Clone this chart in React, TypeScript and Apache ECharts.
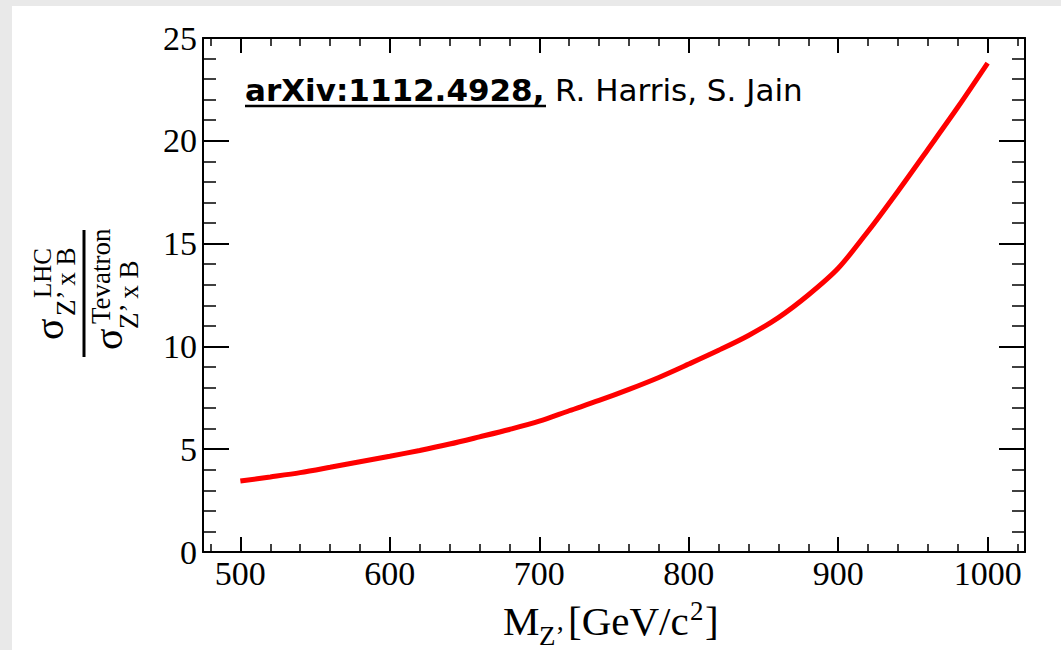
import React, { useEffect, useRef } from "react";
import * as echarts from "echarts";

// Z' mass (GeV/c^2) and ratio sigma_LHC / sigma_Tevatron
const MASS = [500, 520, 540, 560, 580, 600, 620, 640, 660, 680, 700, 720, 740, 760, 780, 800, 820, 840, 860, 880, 900, 920, 940, 960, 980, 1000];
const RATIO = [3.45, 3.65, 3.86, 4.12, 4.39, 4.66, 4.94, 5.25, 5.6, 5.96, 6.36, 6.87, 7.37, 7.91, 8.49, 9.14, 9.81, 10.53, 11.4, 12.5, 13.8, 15.6, 17.55, 19.58, 21.63, 23.78];

const X_MIN = 475;
const X_MAX = 1025;
const X_MAJOR = [500, 600, 700, 800, 900, 1000];
const X_MINOR = [480, 520, 540, 560, 580, 620, 640, 660, 680, 720, 740, 760, 780, 820, 840, 860, 880, 920, 940, 960, 980, 1020];
const Y_MIN = 0;
const Y_MAX = 25;
const Y_STEP = 5;

const SERIF = '"Liberation Serif", "Times New Roman", serif';
const SANS = '"DejaVu Sans", sans-serif';

function txt(text: string, x: number, baseline: number, size: number, family: string, weight = "normal") {
  const k = family === SANS ? 0.346 : 0.3375;
  return {
    type: "text",
    x,
    y: baseline - k * size,
    style: {
      text,
      fill: "#000",
      fontSize: size,
      fontFamily: family,
      fontWeight: weight,
      align: "left",
      verticalAlign: "middle",
    },
  };
}

export default function App() {
  const ref = useRef<HTMLDivElement>(null);

  useEffect(() => {
    if (!ref.current) return;
    const chart = echarts.init(ref.current, undefined, { renderer: "svg" });
    const black = "#000";
    const frame = { show: true, onZero: false, lineStyle: { color: black, width: 2 } };
    const majorX = { show: true, inside: true, length: 15, lineStyle: { color: black, width: 2 } };
    const minorX = { show: true, inside: true, length: 8, lineStyle: { color: black, width: 1.5 } };

    const xBase = {
      type: "value",
      min: X_MIN,
      max: X_MAX,
      splitLine: { show: false },
      gridIndex: 0,
    };

    const yBase = {
      type: "value",
      min: Y_MIN,
      max: Y_MAX,
      interval: Y_STEP,
      splitLine: { show: false },
      axisLine: frame,
      axisTick: { show: true, inside: true, length: 26, lineStyle: { color: black, width: 2 } },
      minorTick: { show: true, splitNumber: 5, length: 13, lineStyle: { color: black, width: 1.5 } },
      minorSplitLine: { show: false },
    };

    const plain = (v: number) => String(v);

    const option: any = {
      animation: false,
      backgroundColor: "#ffffff",
      grid: { left: 203, right: 36, top: 38, bottom: 98, containLabel: false },
      xAxis: [
        {
          ...xBase,
          position: "bottom",
          axisLine: frame,
          axisTick: { ...majorX, customValues: X_MAJOR },
          axisLabel: { show: true, customValues: X_MAJOR, formatter: plain, margin: 4, color: black, fontSize: 34, fontFamily: SERIF },
        },
        {
          ...xBase,
          position: "bottom",
          axisLine: { show: false, onZero: false },
          axisTick: { ...minorX, customValues: X_MINOR },
          axisLabel: { show: false },
        },
        {
          ...xBase,
          position: "top",
          axisLine: frame,
          axisTick: { ...majorX, customValues: X_MAJOR },
          axisLabel: { show: false },
        },
        {
          ...xBase,
          position: "top",
          axisLine: { show: false, onZero: false },
          axisTick: { ...minorX, customValues: X_MINOR },
          axisLabel: { show: false },
        },
      ],
      yAxis: [
        {
          ...yBase,
          position: "left",
          axisLabel: { show: true, formatter: plain, margin: 6, color: black, fontSize: 34, fontFamily: SERIF },
        },
        {
          ...yBase,
          position: "right",
          axisLabel: { show: false },
        },
      ],
      series: [
        {
          type: "line",
          xAxisIndex: 0,
          yAxisIndex: 0,
          data: MASS.map((m, i) => [m, RATIO[i]]),
          smooth: 0.3,
          showSymbol: false,
          symbol: "none",
          lineStyle: { color: "#ff0000", width: 5 },
          z: 5,
        },
      ],
      graphic: [
        { type: "rect", shape: { x: 0, y: 0, width: 1061, height: 6 }, style: { fill: "#e9e9e9" } },
        { type: "rect", shape: { x: 0, y: 0, width: 12, height: 650 }, style: { fill: "#e9e9e9" } },
        // annotation
        txt("arXiv:1112.4928,", 245, 101, 31, SANS, "bold"),
        { type: "line", shape: { x1: 245, y1: 106, x2: 546, y2: 106 }, style: { stroke: black, lineWidth: 2.5 } },
        txt("R. Harris, S. Jain", 555, 101, 31, SANS),
        // x title
        txt("M", 503, 635, 41, SERIF),
        txt("Z’", 539, 645, 27, SERIF),
        txt("[GeV/c", 568, 635, 41, SERIF),
        txt("2", 690, 620, 27, SERIF),
        txt("]", 705, 635, 41, SERIF),
        // y title (rotated fraction)
        {
          type: "group",
          x: 84,
          y: 293,
          rotation: Math.PI / 2,
          children: [
            { type: "line", shape: { x1: -64, y1: 0, x2: 63, y2: 0 }, style: { stroke: black, lineWidth: 3 } },
            txt("σ", -47, -21, 40, SERIF),
            txt("LHC", -5, -33, 25, SERIF),
            txt("Z’ x B", -23, -9, 27, SERIF),
            txt("σ", -57, 38, 40, SERIF),
            txt("Tevatron", -31, 26, 27, SERIF),
            txt("Z’ x B", -36, 54, 27, SERIF),
          ],
        },
      ],
    };

    chart.setOption(option);
    return () => {
      chart.dispose();
    };
  }, []);

  return (
    <div
      ref={ref}
      style={{ position: "fixed", left: 0, top: 0, width: 1061, height: 650 }}
    />
  );
}
